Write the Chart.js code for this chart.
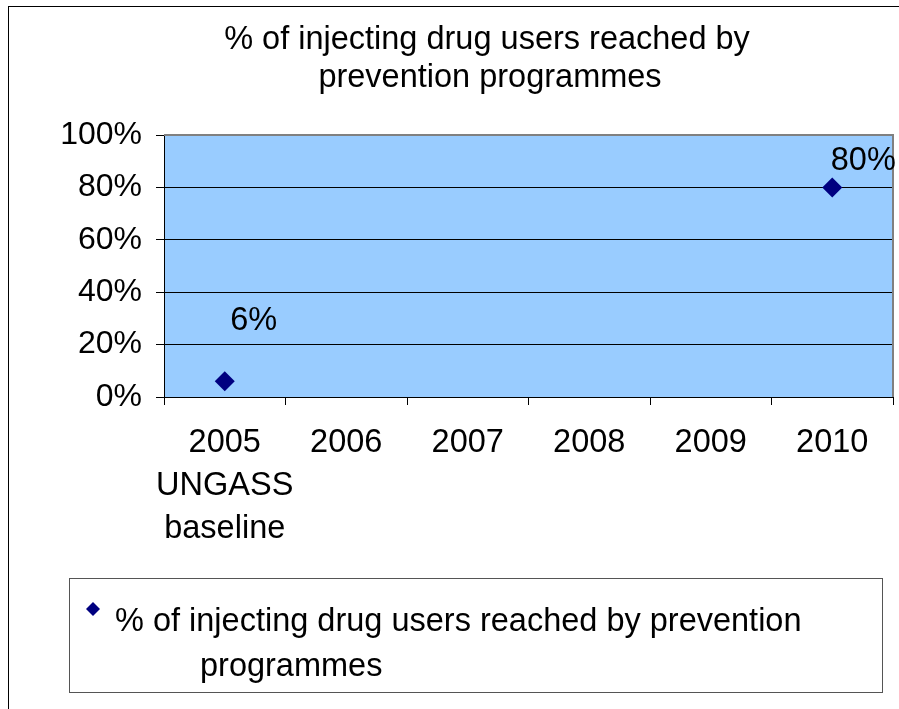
<!DOCTYPE html>
<html>
<head>
<meta charset="utf-8">
<script src="https://cdn.jsdelivr.net/npm/chart.js@4.4.0/dist/chart.umd.min.js"></script>
<style>
  body { margin: 0; background: #fff; }
</style>
</head>
<body>
<canvas id="reachChart" width="899" height="709"></canvas>
<script>
const categories = [['2005', 'UNGASS', 'baseline'], '2006', '2007', '2008', '2009', '2010'];
const reachedValues = [6, null, null, null, null, 80];
const yTickValues = [0, 20, 40, 60, 80, 100];
const seriesName = '% of injecting drug users reached by prevention programmes';
const titleLines = ['% of injecting drug users reached by', 'prevention programmes'];

const plotColor = '#99CCFF';
const markerColor = '#000080';
const fontFamily = "'Liberation Sans', Arial, sans-serif";
const textFont = '32.5px ' + fontFamily;

// label offsets from the marker (the source had them hand placed)
const labelOffsets = [[29, -60], null, null, null, null, [31, -26]];

const excelLook = {
    id: 'excelLook',
    beforeDraw(chart) {
        const ctx = chart.ctx;
        const a = chart.chartArea;
        ctx.save();
        ctx.fillStyle = plotColor;
        ctx.fillRect(a.left, a.top, a.right - a.left, a.bottom - a.top);
        // outer chart frame (cropped on right and bottom)
        ctx.strokeStyle = '#000';
        ctx.lineWidth = 1;
        ctx.strokeRect(8.5, 6.5, 1200, 1200);

        // title, centred on the full (cropped) chart object
        ctx.font = textFont;
        ctx.fillStyle = '#000';
        ctx.textAlign = 'center';
        ctx.textBaseline = 'middle';
        ctx.fillText(titleLines[0], 487, 40);
        ctx.fillText(titleLines[1], 490, 78);
        ctx.restore();
    },
    beforeDatasetsDraw(chart) {
        const ctx = chart.ctx;
        const a = chart.chartArea;
        ctx.save();
        ctx.strokeStyle = '#808080';
        ctx.lineWidth = 2;
        ctx.beginPath();
        ctx.moveTo(a.left, a.top);
        ctx.lineTo(a.right, a.top);
        ctx.lineTo(a.right, a.bottom);
        ctx.stroke();
        ctx.restore();
    },
    afterDraw(chart) {
        const ctx = chart.ctx;
        ctx.save();
        // data labels
        ctx.font = textFont;
        ctx.fillStyle = '#000';
        ctx.textAlign = 'center';
        ctx.textBaseline = 'middle';
        chart.getDatasetMeta(0).data.forEach((pt, i) => {
            const v = reachedValues[i];
            if (v === null || !labelOffsets[i]) return;
            ctx.fillText(v + '%', pt.x + labelOffsets[i][0], pt.y + labelOffsets[i][1]);
        });

        // legend box, text wraps like the original
        ctx.fillStyle = '#fff';
        ctx.fillRect(69, 578, 813, 114);
        ctx.strokeStyle = '#555';
        ctx.lineWidth = 1;
        ctx.strokeRect(69.5, 578.5, 813, 114);

        ctx.fillStyle = markerColor;
        ctx.beginPath();
        ctx.moveTo(93, 602);
        ctx.lineTo(100, 609);
        ctx.lineTo(93, 616);
        ctx.lineTo(86, 609);
        ctx.closePath();
        ctx.fill();

        ctx.fillStyle = '#000';
        ctx.textAlign = 'left';
        const words = seriesName.split(' ');
        ctx.fillText(words.slice(0, -1).join(' '), 115, 622);
        ctx.fillText(words[words.length - 1], 200, 667);
        ctx.restore();
    }
};

function createReachChart() {
    const ctx = document.getElementById('reachChart').getContext('2d');
    Chart.defaults.font.family = fontFamily;
    Chart.defaults.color = '#000';

    const data = {
        labels: categories,
        datasets: [{
            label: seriesName,
            data: reachedValues,
            showLine: false,
            pointStyle: 'rectRot',
            pointRadius: 10,
            pointHoverRadius: 10,
            backgroundColor: markerColor,
            borderColor: markerColor,
            borderWidth: 0
        }]
    };

    const config = {
        type: 'line',
        data: data,
        options: {
            responsive: false,
            animation: false,
            layout: { autoPadding: false, padding: { left: 0, right: 6, top: 135, bottom: 160 } },
            plugins: {
                legend: { display: false },
                tooltip: { enabled: false },
                title: { display: false }
            },
            scales: {
                x: {
                    offset: true,
                    grid: { offset: true, drawOnChartArea: false, color: '#000', tickLength: 8 },
                    border: { color: '#000', width: 1 },
                    ticks: { font: { size: 32.5, lineHeight: 1.33 }, padding: 16, maxRotation: 0, autoSkip: false },
                    afterFit: (scale) => {
                        scale.height = 152;
                        scale.paddingLeft = 0;
                        scale.paddingRight = 0;
                    }
                },
                y: {
                    min: 0,
                    max: 100,
                    afterBuildTicks: (scale) => { scale.ticks = yTickValues.map(v => ({ value: v })); },
                    grid: {
                        color: (c) => c.tick && c.tick.value === 100 ? '#808080' : '#000',
                        tickColor: '#000',
                        tickLength: 8
                    },
                    border: { color: '#000', width: 1 },
                    ticks: {
                        font: { size: 32 },
                        padding: 14,
                        callback: (v) => v + '%'
                    },
                    afterFit: (scale) => { scale.width = 164; }
                }
            }
        },
        plugins: [excelLook]
    };

    return new Chart(ctx, config);
}

createReachChart();
</script>
</body>
</html>
